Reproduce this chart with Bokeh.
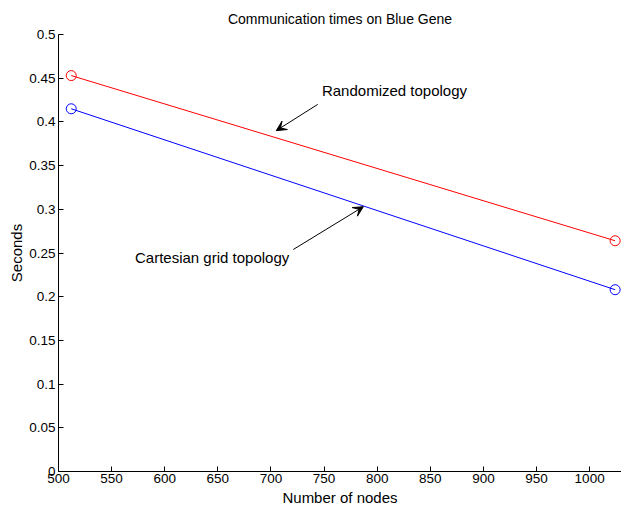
from bokeh.plotting import figure
from bokeh.models import Range1d, FixedTicker, Arrow, VeeHead, Label
from bokeh.embed import file_html
from bokeh.resources import INLINE

nodes = [512, 1024]
randomized = [0.453, 0.264]
cartesian = [0.415, 0.208]

x_ticks = [500, 550, 600, 650, 700, 750, 800, 850, 900, 950, 1000]
y_ticks = [0, 0.05, 0.1, 0.15, 0.2, 0.25, 0.3, 0.35, 0.4, 0.45, 0.5]
y_tick_labels = ["0", "0.05", "0.1", "0.15", "0.2", "0.25", "0.3", "0.35", "0.4", "0.45", "0.5"]

title_text = "Communication times on Blue Gene"
x_label = "Number of nodes"
y_label = "Seconds"

rand_label = "Randomized topology"
rand_text_pos = (748, 0.426)
rand_arrow = [(744, 0.420), (705, 0.390)]
cart_label = "Cartesian grid topology"
cart_text_pos = (572, 0.245)
cart_arrow = [(721, 0.254), (787, 0.303)]

FONT = "Liberation Sans"

p = figure(width=621, height=508, output_backend="svg", toolbar_location=None,
           x_range=Range1d(500, 1030), y_range=Range1d(0, 0.5),
           min_border_left=58, min_border_right=0, min_border_top=33, min_border_bottom=30)
p.outline_line_color = None
p.xgrid.visible = False
p.ygrid.visible = False

p.title.text = title_text
p.title.align = "center"
p.title.text_font = FONT
p.title.text_font_size = "14px"
p.title.text_font_style = "normal"
p.title.text_color = "black"
p.title.standoff = 16

for ax in (p.xaxis[0], p.yaxis[0]):
    ax.major_tick_in = 5
    ax.major_tick_out = 0
    ax.minor_tick_in = 0
    ax.minor_tick_out = 0
    ax.axis_line_color = "black"
    ax.major_tick_line_color = "black"
    ax.major_label_text_font = FONT
    ax.major_label_text_font_size = "13.5px"
    ax.major_label_text_color = "black"
    ax.axis_label_text_font = FONT
    ax.axis_label_text_font_size = "15px"
    ax.axis_label_text_font_style = "normal"
    ax.axis_label_text_color = "black"

p.xaxis.ticker = FixedTicker(ticks=x_ticks)
p.xaxis.major_label_standoff = 2
p.xaxis.axis_label = x_label
p.xaxis.axis_label_standoff = 3

p.yaxis.ticker = FixedTicker(ticks=y_ticks)
p.yaxis.major_label_overrides = {t: l for t, l in zip(y_ticks, y_tick_labels)}
p.yaxis.major_label_standoff = 3
p.yaxis.axis_label = y_label
p.yaxis.axis_label_standoff = 1

p.line(nodes, randomized, line_color="red", line_width=1)
p.scatter(nodes, randomized, marker="circle", size=10, fill_color=None, line_color="red")
p.line(nodes, cartesian, line_color="blue", line_width=1)
p.scatter(nodes, cartesian, marker="circle", size=10, fill_color=None, line_color="blue")

p.add_layout(Label(x=rand_text_pos[0], y=rand_text_pos[1], text=rand_label, text_color="black",
                   text_font=FONT, text_font_size="15px", text_baseline="bottom"))
p.add_layout(Arrow(x_start=rand_arrow[0][0], y_start=rand_arrow[0][1],
                   x_end=rand_arrow[1][0], y_end=rand_arrow[1][1],
                   line_color="black", line_width=1,
                   end=VeeHead(size=10, fill_color="black", line_color="black")))
p.add_layout(Label(x=cart_text_pos[0], y=cart_text_pos[1], text=cart_label, text_color="black",
                   text_font=FONT, text_font_size="15px", text_baseline="middle"))
p.add_layout(Arrow(x_start=cart_arrow[0][0], y_start=cart_arrow[0][1],
                   x_end=cart_arrow[1][0], y_end=cart_arrow[1][1],
                   line_color="black", line_width=1,
                   end=VeeHead(size=10, fill_color="black", line_color="black")))

open("out.html", "w").write(file_html(p, INLINE))
